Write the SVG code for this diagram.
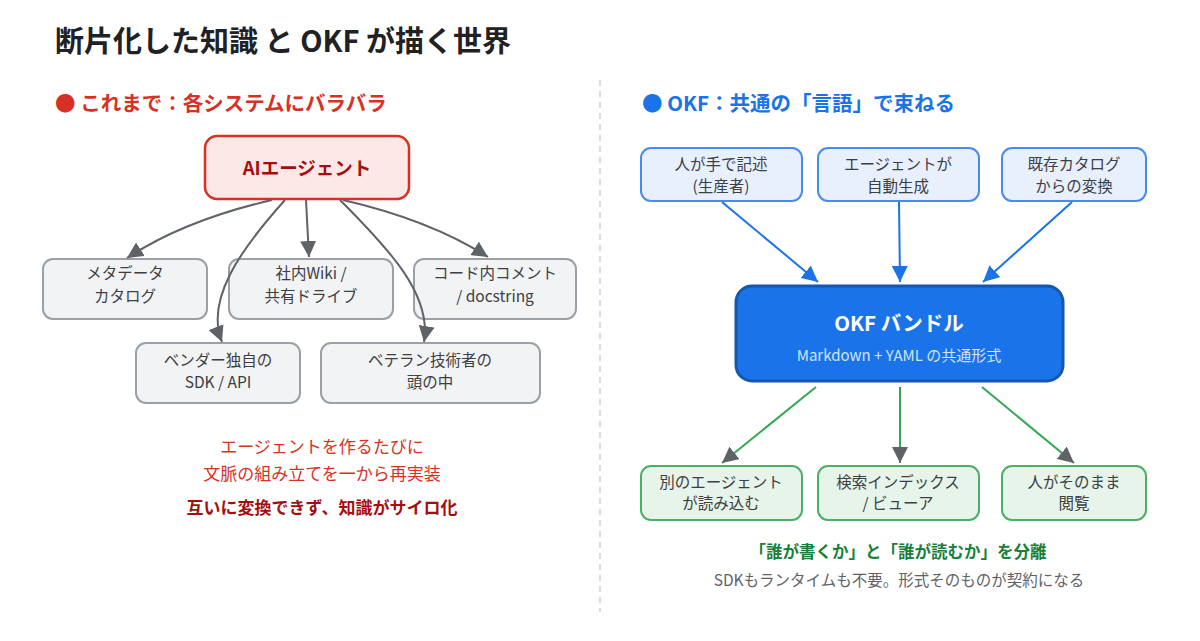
<svg xmlns="http://www.w3.org/2000/svg" width="1200" height="641" viewBox="0 0 1200 641">
<defs>
<style>
text{font-family:"Noto Sans CJK JP","Noto Sans",sans-serif}
.title{font-size:29px;font-weight:700;fill:#202124}
.hdr{font-size:20.5px;font-weight:700}
.gray rect{fill:#f1f3f4;stroke:#9aa0a6;stroke-width:2}
.gray text,.blue text,.green text{font-size:15.5px;fill:#3c4043;text-anchor:middle}
.blue rect{fill:#e8f0fe;stroke:#4a8af0;stroke-width:2}
.green rect{fill:#e6f4ea;stroke:#4caf66;stroke-width:2}
.c{text-anchor:middle}
.lg{fill:none;stroke:#5f6368;stroke-width:2}
.lb{fill:none;stroke:#1a73e8;stroke-width:2}
.lgr{fill:none;stroke:#34a853;stroke-width:2}
</style>
<marker id="ag" viewBox="0 0 10 10" refX="10" refY="5" markerWidth="8" markerHeight="8" orient="auto"><path d="M0,0 L10,5 L0,10 z" fill="#5f6368"/></marker>
<marker id="ab" viewBox="0 0 10 10" refX="10" refY="5" markerWidth="8" markerHeight="8" orient="auto"><path d="M0,0 L10,5 L0,10 z" fill="#1a73e8"/></marker>
</defs>
<rect width="1200" height="641" fill="#ffffff"/>
<text class="title" x="55" y="52">断片化した知識 と OKF が描く世界</text>
<line x1="600" y1="80" x2="600" y2="612" stroke="#dadce0" stroke-width="2" stroke-dasharray="6 5"/>

<text class="hdr" x="55" y="111" fill="#d93025">● これまで：各システムにバラバラ</text>
<text class="hdr" x="642" y="111" fill="#1a73e8">● OKF：共通の「言語」で束ねる</text>

<g id="ai">
<rect x="205" y="136" width="204" height="63" rx="12" fill="#fce8e6" stroke="#d93025" stroke-width="2.5"/>
<text class="c" x="307" y="175" font-size="18.5" font-weight="700" fill="#a50e0e">AIエージェント</text>
</g>
<g id="meta" class="gray"><rect x="43" y="259" width="164" height="60" rx="10"/><text x="125" y="279">メタデータ</text><text x="125" y="302">カタログ</text></g>
<g id="wiki" class="gray"><rect x="229" y="259" width="164" height="60" rx="10"/><text x="311" y="279">社内Wiki /</text><text x="311" y="302">共有ドライブ</text></g>
<g id="code" class="gray"><rect x="414" y="259" width="162" height="60" rx="10"/><text x="495" y="279">コード内コメント</text><text x="495" y="302">/ docstring</text></g>
<g id="vendor" class="gray"><rect x="136" y="343" width="164" height="60" rx="10"/><text x="218" y="366">ベンダー独自の</text><text x="218" y="388">SDK / API</text></g>
<g id="veteran" class="gray"><rect x="321" y="343" width="219" height="60" rx="10"/><text x="430" y="366">ベテラン技術者の</text><text x="430" y="388">頭の中</text></g>

<g id="left-notes">
<text class="c" x="322" y="453" font-size="17" fill="#d93025">エージェントを作るたびに</text>
<text class="c" x="322" y="480" font-size="17" fill="#d93025">文脈の組み立てを一から再実装</text>
<text class="c" x="322" y="514" font-size="17" font-weight="700" fill="#a50e0e">互いに変換できず、知識がサイロ化</text>
</g>

<g id="human" class="blue"><rect x="641" y="148" width="161" height="53" rx="10"/><text x="721" y="170">人が手で記述</text><text x="721" y="192">(生産者)</text></g>
<g id="agentgen" class="blue"><rect x="818" y="148" width="161" height="53" rx="10"/><text x="898" y="170">エージェントが</text><text x="898" y="192">自動生成</text></g>
<g id="catalog" class="blue"><rect x="1002" y="148" width="144" height="53" rx="10"/><text x="1074" y="170">既存カタログ</text><text x="1074" y="192">からの変換</text></g>

<g id="okf">
<rect x="736" y="286" width="327" height="95" rx="16" fill="#1a73e8" stroke="#1557b0" stroke-width="3"/>
<text class="c" x="899" y="331" font-size="20.5" font-weight="700" fill="#ffffff">OKF バンドル</text>
<text class="c" x="899" y="361" font-size="15" fill="#d2e3fc">Markdown + YAML の共通形式</text>
</g>

<g id="reader" class="green"><rect x="641" y="466" width="161" height="54" rx="10"/><text x="721" y="488">別のエージェント</text><text x="721" y="509">が読み込む</text></g>
<g id="index" class="green"><rect x="818" y="466" width="161" height="54" rx="10"/><text x="898" y="488">検索インデックス</text><text x="898" y="509">/ ビューア</text></g>
<g id="browse" class="green"><rect x="1002" y="466" width="144" height="54" rx="10"/><text x="1074" y="488">人がそのまま</text><text x="1074" y="509">閲覧</text></g>

<g id="right-notes">
<text class="c" x="898" y="558" font-size="16.5" font-weight="700" fill="#188038">「誰が書くか」と「誰が読むか」を分離</text>
<text class="c" x="899" y="586" font-size="15.5" fill="#5f6368">SDKもランタイムも不要。形式そのものが契約になる</text>
</g>

<g id="connectors">
<path class="lg" d="M272,200 Q185,220 127,258" marker-end="url(#ag)"/>
<path class="lg" d="M306,200 L309,257" marker-end="url(#ag)"/>
<path class="lg" d="M343,200 Q430,220 488,257" marker-end="url(#ag)"/>
<path class="lg" d="M285,200 C240,250 205,300 222,342" marker-end="url(#ag)"/>
<path class="lg" d="M340,200 C390,250 432,295 424,342" marker-end="url(#ag)"/>
<path class="lb" d="M722,202 L818,282" marker-end="url(#ab)"/>
<path class="lb" d="M899,202 L900,282" marker-end="url(#ab)"/>
<path class="lb" d="M1072,202 L983,282" marker-end="url(#ab)"/>
<path class="lgr" d="M816,387 L722,463" marker-end="url(#ag)"/>
<path class="lgr" d="M900,387 L900,463" marker-end="url(#ag)"/>
<path class="lgr" d="M982,387 L1074,463" marker-end="url(#ag)"/>
</g>
</svg>
